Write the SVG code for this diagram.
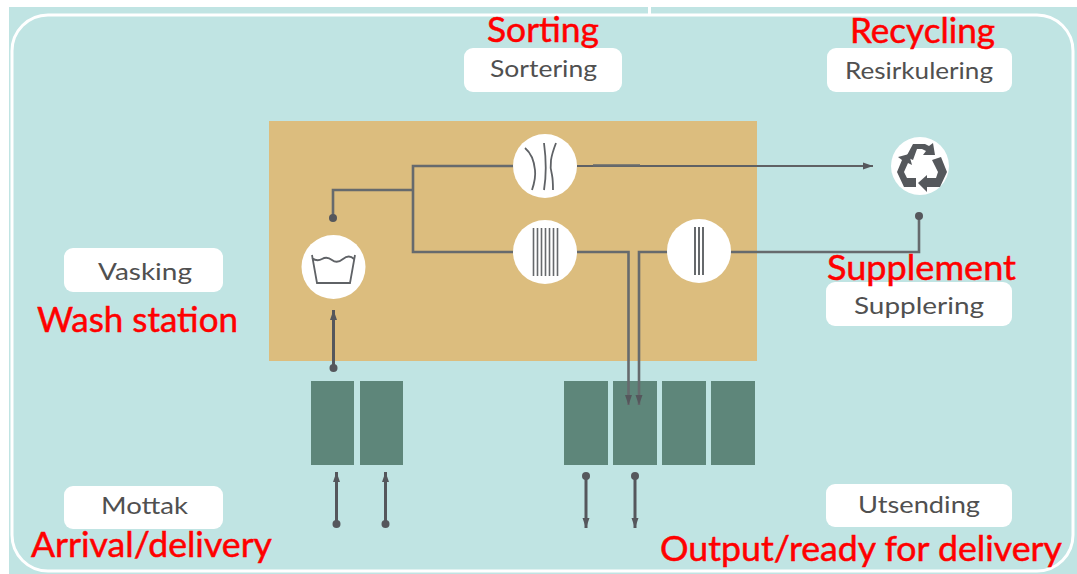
<svg xmlns="http://www.w3.org/2000/svg" width="1077" height="574" viewBox="0 0 1077 574">
<style>
.lb{fill:#fff}
.t{font-family:"Lato","Open Sans",sans-serif;font-size:24px;fill:#505050}
.r{font-family:"Lato","Open Sans",sans-serif;font-size:34px;fill:#ff0000;stroke:#ff0000;stroke-width:.5}
.c{fill:none;stroke:#666a6d;stroke-width:2.600}
.c2{fill:none;stroke:#5f6164;stroke-width:1.800}
.v{fill:none;stroke:#55575c;stroke-width:3}
.d{fill:#55575c}
.ci{fill:#fff}
.bin{fill:#5e867a}
.ic{fill:none;stroke:#5f6266;stroke-width:1.800}
.ref{fill:#55585c}
</style>
<defs>
<marker id="a" markerUnits="userSpaceOnUse" markerWidth="12" markerHeight="10" refX="10" refY="5" orient="auto-start-reverse"><path d="M0 1.500 L10 5 L0 8.500 Z" fill="#55575c"/></marker>
</defs>
<rect id="background" x="9" y="7" width="1068" height="567" fill="#c0e4e3"/>
<rect id="frame" x="12" y="15" width="1061" height="556" rx="36" fill="none" stroke="#fff" stroke-width="3"/>
<rect x="648" y="7" width="3" height="8" fill="#fff"/>
<rect id="plant" x="269" y="121" width="488" height="240" fill="#dcbd7e"/>
<g id="bins">
<rect class="bin" x="311" y="381" width="43" height="84"/>
<rect class="bin" x="360" y="381" width="43" height="84"/>
<rect class="bin" x="564" y="381" width="44" height="84"/>
<rect class="bin" x="613" y="381" width="44" height="84"/>
<rect class="bin" x="662" y="381" width="44" height="84"/>
<rect class="bin" x="711" y="381" width="44" height="84"/>
</g>
<g id="connectors">
<path class="c" d="M333 218V190H413"/>
<path class="c" d="M545 166H413V252H545"/>
<path class="c2" d="M577 166H873" marker-end="url(#a)"/>
<path class="c" d="M593 165.500H640"/>
<path class="c" d="M577 252H628.500V405" marker-end="url(#a)"/>
<path class="c" d="M698 252H639V405" marker-end="url(#a)"/>
<path class="c" d="M730 252H919V216"/>
<circle class="d" cx="333" cy="218" r="4"/>
<circle class="d" cx="919" cy="216" r="4"/>
<path class="v" d="M333.500 368V310" marker-end="url(#a)"/>
<circle class="d" cx="333.500" cy="368" r="4"/>
<path class="v" d="M336.500 524V472" marker-end="url(#a)"/>
<circle class="d" cx="336.500" cy="524" r="4"/>
<path class="v" d="M385.500 524V472" marker-end="url(#a)"/>
<circle class="d" cx="385.500" cy="524" r="4"/>
<path class="v" d="M586 476V528" marker-end="url(#a)"/>
<circle class="d" cx="586" cy="476" r="4"/>
<path class="v" d="M635 476V528" marker-end="url(#a)"/>
<circle class="d" cx="635" cy="476" r="4"/>
</g>
<g id="wash"><circle class="ci" cx="333.500" cy="267" r="32"/>
<path class="ic" d="M312 255L317 283H350L355 255M312 258q5 4 10 1t10 1t11-1t11 0"/></g>
<g id="sort"><circle class="ci" cx="545" cy="166" r="32"/>
<path class="ic" stroke-width="2" d="M525 148C531 153 534 160 535 170C536 178 534 184 532 190M544 143C546 158 547 172 544 190M556 143C551 156 549 165 552 175C553 180 553 185 553 190"/></g>
<g id="stack1"><circle class="ci" cx="545" cy="252" r="32"/>
<path d="M533.500 228V276M537.500 228V276M541.500 228V276M545.500 228V276M549.500 228V276M553.500 228V276M557.500 228V276" stroke="#66696c" stroke-width="1.600" fill="none"/></g>
<g id="stack2"><circle class="ci" cx="699" cy="251" r="32"/>
<path d="M695 227V275M699 227V275M703 227V275" stroke="#66696c" stroke-width="2" fill="none"/></g>
<g id="recycle"><circle class="ci" cx="920" cy="166" r="29"/>
<path class="ref" d="M906 157L913 144H925L929 146L933 143L935 155L923 155L926 151L922 149H917L913 160Z"/>
<path class="ref" d="M902 160L897 172L904 187H916V178H907L904 172L908 163L912 165L909 154L898 157Z"/>
<path class="ref" d="M932 160L941 157L947 172L940 187H927V192L918 183L927 175V178H936L938 172L935 166Z"/>
</g>
<g id="sortering"><rect class="lb" x="464" y="48" width="158" height="44" rx="9"/><text class="t" x="490" y="77" textLength="107" lengthAdjust="spacingAndGlyphs">Sortering</text><text class="r" x="487" y="42" textLength="112" lengthAdjust="spacingAndGlyphs">Sorting</text></g>
<g id="resirkulering"><rect class="lb" x="827" y="48" width="185" height="44" rx="9"/><text class="t" x="845" y="79" textLength="148" lengthAdjust="spacingAndGlyphs">Resirkulering</text><text class="r" x="850" y="43" textLength="145" lengthAdjust="spacingAndGlyphs">Recycling</text></g>
<g id="vasking"><rect class="lb" x="64" y="248" width="159" height="44" rx="9"/><text class="t" x="98" y="280" textLength="94" lengthAdjust="spacingAndGlyphs">Vasking</text><text class="r" x="37" y="332" textLength="201" lengthAdjust="spacingAndGlyphs">Wash station</text></g>
<g id="supplering"><rect class="lb" x="826" y="282" width="186" height="44" rx="9"/><text class="t" x="854" y="314" textLength="130" lengthAdjust="spacingAndGlyphs">Supplering</text><text class="r" x="827" y="280" textLength="189" lengthAdjust="spacingAndGlyphs">Supplement</text></g>
<g id="mottak"><rect class="lb" x="64" y="486" width="159" height="43" rx="9"/><text class="t" x="101" y="514" textLength="87" lengthAdjust="spacingAndGlyphs">Mottak</text><text class="r" x="31" y="557" textLength="241" lengthAdjust="spacingAndGlyphs">Arrival/delivery</text></g>
<g id="utsending"><rect class="lb" x="826" y="484" width="186" height="43" rx="9"/><text class="t" x="858" y="513" textLength="122" lengthAdjust="spacingAndGlyphs">Utsending</text><text class="r" x="660" y="561" textLength="402" lengthAdjust="spacingAndGlyphs">Output/ready for delivery</text></g>
</svg>
